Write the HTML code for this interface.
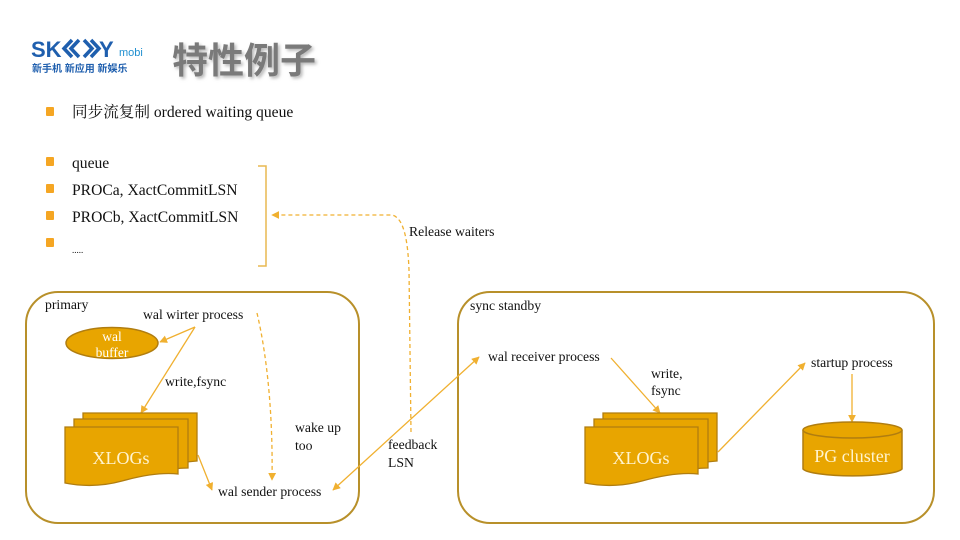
<!DOCTYPE html>
<html><head><meta charset="utf-8"><style>
html,body{margin:0;padding:0;background:#fff;}
svg{display:block;}
.t{font-family:"Liberation Serif","Noto Serif CJK SC",serif;fill:#111;}
</style></head><body>
<svg width="960" height="540" viewBox="0 0 960 540" xmlns="http://www.w3.org/2000/svg">
<defs>
<marker id="ah" viewBox="0 0 10 10" refX="9" refY="5" markerWidth="6" markerHeight="6" orient="auto-start-reverse"><path d="M0,0 L10,5 L0,10 z" fill="#f0b030"/></marker>
<filter id="sh" x="-10%" y="-10%" width="130%" height="130%"><feDropShadow dx="2" dy="2" stdDeviation="1.5" flood-color="#999" flood-opacity="0.7"/></filter>
</defs>
<rect width="960" height="540" fill="#fff"/>

<!-- logo -->
<text x="31" y="57" font-family="Liberation Sans,sans-serif" font-weight="bold" font-size="22" fill="#1f5fae">SK</text>
<path d="M72,40 L64,48.5 L72,57 M79,40 L71,48.5 L79,57 M84,40 L92,48.5 L84,57 M91,40 L99,48.5 L91,57" stroke="#1f5fae" stroke-width="3.5" fill="none"/>
<text x="99" y="57" font-family="Liberation Sans,sans-serif" font-weight="bold" font-size="22" fill="#1f5fae">Y</text>
<text x="119" y="56" font-family="Liberation Sans,sans-serif" font-size="11" fill="#1f8fd0">mobi</text>
<text x="32" y="72" font-family="Liberation Sans,'Noto Sans CJK SC',sans-serif" font-weight="bold" font-size="10" fill="#1f5fae">新手机 新应用 新娱乐</text>

<!-- title -->
<text x="172" y="73" font-family="'Noto Sans CJK SC',sans-serif" font-weight="bold" font-size="36" fill="#7a7a7a" filter="url(#sh)">特性例子</text>

<!-- bullets -->
<g fill="#f5a623">
<rect x="46" y="107" width="8" height="9" rx="1"/>
<rect x="46" y="157" width="8" height="9" rx="1"/>
<rect x="46" y="184" width="8" height="9" rx="1"/>
<rect x="46" y="211" width="8" height="9" rx="1"/>
<rect x="46" y="238" width="8" height="9" rx="1"/>
</g>
<text class="t" x="72" y="117" font-size="15.6" fill="#222">同步流复制 ordered waiting queue</text>
<text class="t" x="72" y="168" font-size="15.6">queue</text>
<text class="t" x="72" y="195" font-size="15.6">PROCa, XactCommitLSN</text>
<text class="t" x="72" y="222" font-size="15.6">PROCb, XactCommitLSN</text>
<text class="t" x="72" y="253" font-size="9" fill="#888">.....</text>

<!-- bracket -->
<path d="M258,166 H266 V266 H258" stroke="#e8b850" stroke-width="1.5" fill="none"/>

<!-- release waiters dashed -->
<path d="M411,432 L409,270 C408,245 405,218 392,215 L272,215" stroke="#f0b030" stroke-width="1.3" stroke-dasharray="4,3" fill="none" marker-end="url(#ah)"/>
<text class="t" x="409" y="236" font-size="13.7">Release waiters</text>

<!-- boxes -->
<rect x="26" y="292" width="333" height="231" rx="32" ry="32" fill="none" stroke="#b8902a" stroke-width="2"/>
<rect x="458" y="292" width="476" height="231" rx="32" ry="32" fill="none" stroke="#b8902a" stroke-width="2"/>

<!-- primary -->
<text class="t" x="45" y="309" font-size="13.7">primary</text>
<text class="t" x="143" y="319" font-size="13.7">wal wirter process</text>
<ellipse cx="112" cy="343" rx="46" ry="15.5" fill="#e8a500" stroke="#b07d10" stroke-width="1.5"/>
<text class="t" x="112" y="341" font-size="13.5" text-anchor="middle" style="fill:#fff">wal</text>
<text class="t" x="112" y="357" font-size="13.5" text-anchor="middle" style="fill:#fff">buffer</text>
<line x1="195" y1="327" x2="160" y2="342" stroke="#f0b030" stroke-width="1.3" marker-end="url(#ah)"/>
<line x1="195" y1="327" x2="141" y2="413" stroke="#f0b030" stroke-width="1.3" marker-end="url(#ah)"/>
<text class="t" x="165" y="386" font-size="13.7">write,fsync</text>

<g stroke="#b07d10" stroke-width="1.3" fill="#e8a500">
<path d="M83,413 H197 V461 C185,462 180,463 170,466 L83,466 Z"/>
<path d="M74,419 H188 V468 C175,468 170,470 160,473 L74,473 Z"/>
<path d="M65,427 H178 V474 C160,472 140,476 122,481 C100,487 80,486 65,483 Z"/>
</g>
<text class="t" x="121" y="464" font-size="18" text-anchor="middle" style="fill:#fff4d0">XLOGs</text>
<line x1="198" y1="455" x2="212" y2="490" stroke="#f0b030" stroke-width="1.3" marker-end="url(#ah)"/>

<path d="M257,313 C268,360 273,420 272,480" stroke="#f0b030" stroke-width="1.3" stroke-dasharray="4,3" fill="none" marker-end="url(#ah)"/>
<text class="t" x="295" y="432" font-size="13.7">wake up</text>
<text class="t" x="295" y="450" font-size="13.7">too</text>
<text class="t" x="218" y="496" font-size="13.7">wal sender process</text>

<!-- feedback -->
<line x1="333" y1="490" x2="479" y2="357" stroke="#f0b030" stroke-width="1.3" marker-start="url(#ah)" marker-end="url(#ah)"/>
<text class="t" x="388" y="449" font-size="13.7">feedback</text>
<text class="t" x="388" y="467" font-size="13.7">LSN</text>

<!-- standby -->
<text class="t" x="470" y="310" font-size="13.7">sync standby</text>
<text class="t" x="488" y="361" font-size="13.7">wal receiver process</text>
<line x1="611" y1="358" x2="660" y2="413" stroke="#f0b030" stroke-width="1.3" marker-end="url(#ah)"/>
<text class="t" x="651" y="378" font-size="13.7">write,</text>
<text class="t" x="651" y="395" font-size="13.7">fsync</text>

<g stroke="#b07d10" stroke-width="1.3" fill="#e8a500">
<path d="M603,413 H717 V461 C705,462 700,463 690,466 L603,466 Z"/>
<path d="M594,419 H708 V468 C695,468 690,470 680,473 L594,473 Z"/>
<path d="M585,427 H698 V474 C680,472 660,476 642,481 C620,487 600,486 585,483 Z"/>
</g>
<text class="t" x="641" y="464" font-size="18" text-anchor="middle" style="fill:#fff4d0">XLOGs</text>
<line x1="718" y1="452" x2="805" y2="363" stroke="#f0b030" stroke-width="1.3" marker-end="url(#ah)"/>
<text class="t" x="811" y="367" font-size="13.7">startup process</text>
<line x1="852" y1="374" x2="852" y2="422" stroke="#f0b030" stroke-width="1.3" marker-end="url(#ah)"/>

<path d="M803,430 V469 A50,8 0 0 0 902,469 V430" fill="#e8a500" stroke="#b07d10" stroke-width="1.5"/>
<ellipse cx="852.5" cy="430" rx="49.5" ry="8" fill="#e8a500" stroke="#b07d10" stroke-width="1.5"/>
<text class="t" x="852" y="462" font-size="18" text-anchor="middle" style="fill:#fff4d0">PG cluster</text>
</svg>
</body></html>
